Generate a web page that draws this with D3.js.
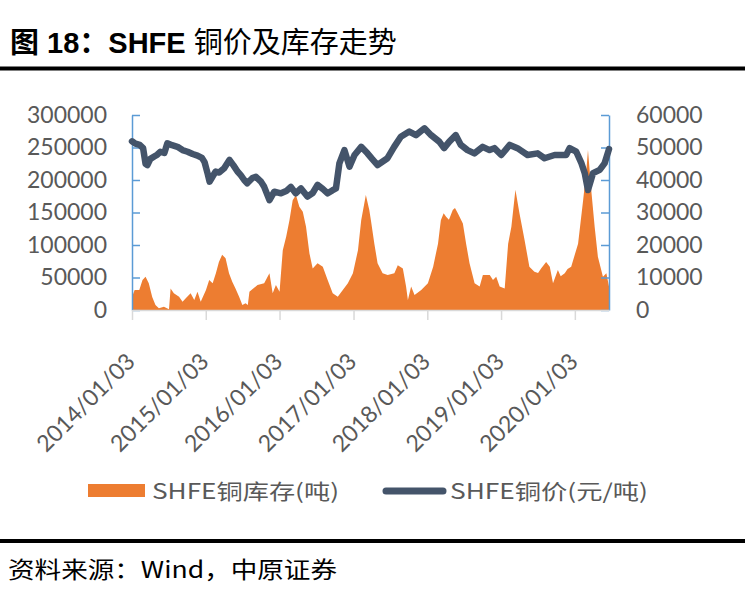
<!DOCTYPE html>
<html>
<head>
<meta charset="utf-8">
<script src="https://cdn.jsdelivr.net/npm/d3@7"></script>
<style>
    body { margin: 0; background: #fff; }
</style>
</head>
<body>
<svg id="chart" width="745" height="597"></svg>
<script>

// Category labels on the time axis
const xTickLabels = ["2014/01/03", "2015/01/03", "2016/01/03", "2017/01/03", "2018/01/03", "2019/01/03", "2020/01/03"];

// Tick values for the two value axes
const stockTicks = [0, 50000, 100000, 150000, 200000, 250000, 300000];
const priceTicks = [0, 10000, 20000, 30000, 40000, 50000, 60000];

const seriesNames = ["SHFE铜库存(吨)", "SHFE铜价(元/吨)"];

// SHFE copper stock (tonnes)
const stockDates = [
    "2014-01-03", "2014-01-16", "2014-02-08", "2014-02-24", "2014-03-11", "2014-03-27", "2014-04-13", "2014-04-29",
    "2014-05-16", "2014-06-10", "2014-07-05", "2014-07-13", "2014-07-29", "2014-08-24", "2014-09-10", "2014-09-26",
    "2014-10-20", "2014-11-07", "2014-11-23", "2014-12-09", "2015-01-04", "2015-01-20", "2015-02-06", "2015-02-22",
    "2015-03-09", "2015-03-25", "2015-04-11", "2015-04-28", "2015-05-14", "2015-05-30", "2015-06-17", "2015-07-03",
    "2015-07-19", "2015-07-30", "2015-08-07", "2015-08-17", "2015-09-16", "2015-10-19", "2015-11-14", "2015-11-30",
    "2015-12-16", "2016-01-03", "2016-01-19", "2016-02-05", "2016-02-21", "2016-03-08", "2016-03-24", "2016-04-10",
    "2016-04-27", "2016-05-13", "2016-05-30", "2016-06-15", "2016-07-09", "2016-08-04", "2016-08-28", "2016-09-22",
    "2016-10-17", "2016-11-11", "2016-12-06", "2016-12-31", "2017-01-25", "2017-02-10", "2017-03-05", "2017-03-22",
    "2017-03-30", "2017-04-16", "2017-05-02", "2017-05-27", "2017-06-21", "2017-07-24", "2017-08-10", "2017-09-04",
    "2017-09-20", "2017-09-29", "2017-10-15", "2017-11-01", "2017-12-04", "2018-01-06", "2018-02-01", "2018-02-25",
    "2018-03-11", "2018-03-25", "2018-04-06", "2018-04-20", "2018-05-09", "2018-05-20", "2018-06-03", "2018-06-28",
    "2018-07-14", "2018-07-31", "2018-08-25", "2018-09-19", "2018-10-05", "2018-11-08", "2018-11-24", "2018-12-10",
    "2018-12-27", "2019-01-21", "2019-02-07", "2019-02-23", "2019-03-15", "2019-04-04", "2019-04-29", "2019-05-23",
    "2019-06-17", "2019-07-05", "2019-07-20", "2019-08-14", "2019-09-01", "2019-09-17", "2019-10-11", "2019-10-25",
    "2019-11-14", "2019-11-28", "2019-12-16", "2020-01-19", "2020-02-13", "2020-02-29", "2020-03-08", "2020-03-24",
    "2020-04-10", "2020-04-26", "2020-05-21", "2020-06-07", "2020-06-20"
];
const stockValues = [
    20000, 30800, 30800, 46000, 51000, 41000, 20000, 7700,
    2600, 5000, 1000, 33000, 25600, 20500, 12800, 18000,
    25600, 15400, 28000, 12800, 30800, 46000, 41000, 56500,
    74000, 85000, 79500, 56500, 43600, 33000, 20500, 7700,
    10300, 7700, 28000, 30800, 38500, 41000, 56500, 25600,
    38500, 28000, 92000, 113000, 138000, 169000, 177000, 159000,
    151000, 128000, 87000, 64000, 72000, 66700, 46000, 25600,
    20500, 30800, 41000, 56500, 92000, 138000, 177000, 154000,
    138000, 102000, 72000, 56500, 54000, 56500, 69000, 64000,
    36000, 15400, 36000, 23000, 30800, 41000, 66700, 102000,
    138000, 149000, 143600, 139000, 154000, 157000, 149000, 133000,
    102000, 72000, 41000, 36000, 54000, 54000, 46000, 51000,
    36000, 33000, 102000, 128000, 185000, 149000, 108000, 66700,
    59000, 57000, 64000, 74000, 66700, 41000, 61500, 52000,
    56500, 63000, 66700, 102000, 169000, 215000, 246000, 185000,
    128000, 82000, 51000, 56500, 36000
];

// SHFE copper price (yuan / tonne)
const priceDates = [
    "2014-01-03", "2014-01-20", "2014-02-10", "2014-02-27", "2014-03-11", "2014-03-20", "2014-04-04", "2014-04-25",
    "2014-05-08", "2014-05-23", "2014-06-12", "2014-06-27", "2014-07-20", "2014-08-16", "2014-09-10", "2014-10-05",
    "2014-10-30", "2014-11-23", "2014-12-15", "2014-12-28", "2015-01-12", "2015-01-22", "2015-02-05", "2015-02-21",
    "2015-03-10", "2015-04-04", "2015-04-30", "2015-05-20", "2015-06-09", "2015-06-25", "2015-07-12", "2015-07-27",
    "2015-08-22", "2015-09-08", "2015-10-03", "2015-10-19", "2015-11-14", "2015-12-08", "2016-01-10", "2016-02-05",
    "2016-02-28", "2016-03-23", "2016-04-18", "2016-05-20", "2016-06-15", "2016-07-09", "2016-08-05", "2016-08-28",
    "2016-09-20", "2016-10-08", "2016-10-25", "2016-11-19", "2016-12-14", "2017-01-08", "2017-02-10", "2017-03-13",
    "2017-04-05", "2017-05-02", "2017-06-20", "2017-07-23", "2017-08-25", "2017-10-06", "2017-11-08", "2017-12-20",
    "2018-01-22", "2018-03-03", "2018-03-27", "2018-04-22", "2018-05-24", "2018-06-18", "2018-07-21", "2018-08-24",
    "2018-10-04", "2018-11-07", "2018-12-01", "2019-01-04", "2019-02-15", "2019-03-25", "2019-05-14", "2019-07-03",
    "2019-08-06", "2019-09-25", "2019-11-21", "2019-12-08", "2020-01-10", "2020-02-05", "2020-02-21", "2020-03-08",
    "2020-04-02", "2020-05-05", "2020-05-29", "2020-06-20"
];
const priceValues = [
    51900, 51200, 50800, 49800, 45000, 44600, 46500, 47300,
    47800, 48700, 48300, 51300, 50700, 50200, 49200, 48700,
    48000, 47500, 46800, 45500, 42000, 39500, 41000, 42600,
    42300, 43600, 46200, 44500, 42600, 41500, 40000, 39000,
    40600, 41000, 39500, 37900, 33800, 36400, 35900, 36600,
    37900, 35900, 37400, 34900, 36000, 38500, 37200, 35900,
    36800, 37400, 45100, 49200, 44100, 47700, 50200, 48200,
    46500, 44600, 46700, 50200, 53300, 54900, 53800, 55900,
    53800, 51800, 49800, 51800, 53800, 50800, 49200, 48200,
    50200, 49200, 49800, 47700, 50800, 49800, 47700, 48200,
    46700, 47700, 47700, 49800, 48700, 45100, 42100, 36900,
    42100, 43100, 45100, 49500
];

/** Class drawing the dual axis stock / price chart. */
class StockPriceChart {

    constructor(svg) {
        this.svg = svg;

        // Plot box in page pixels
        this.plot = { left: 132, right: 609, top: 115, bottom: 310 };

        this.colors = {
            stock: "#ED7D31",
            price: "#44546A",
            valueAxis: "#5B9BD5",
            catAxis: "#D9D9D9",
            text: "#595959"
        };

        this.parse = d3.timeParse("%Y-%m-%d");
        this.parseTick = d3.timeParse("%Y/%m/%d");

        this.x = d3.scaleTime()
            .domain([this.parse(stockDates[0]), this.parse(stockDates[stockDates.length - 1])])
            .range([this.plot.left, this.plot.right]);

        this.yStock = d3.scaleLinear()
            .domain([0, d3.max(stockTicks)])
            .range([this.plot.bottom, this.plot.top]);

        this.yPrice = d3.scaleLinear()
            .domain([0, d3.max(priceTicks)])
            .range([this.plot.bottom, this.plot.top]);
    }

    drawFrame() {
        let svg = this.svg;

        let title = svg.append("text")
            .attr("x", 10)
            .attr("y", 53)
            .attr("font-size", 29)
            .attr("fill", "#000");
        title.append("tspan")
            .attr("font-family", "'Liberation Sans', 'Noto Sans CJK SC', sans-serif")
            .attr("font-weight", "bold")
            .text("图 18：SHFE ");
        title.append("tspan")
            .attr("font-family", "'Noto Sans CJK SC', sans-serif")
            .attr("font-weight", "normal")
            .text("铜价及库存走势");

        // heavy rules above and below the chart
        svg.append("line")
            .attr("x1", 0).attr("x2", 745)
            .attr("y1", 68.5).attr("y2", 68.5)
            .attr("stroke", "#000").attr("stroke-width", 4);
        svg.append("line")
            .attr("x1", 0).attr("x2", 745)
            .attr("y1", 541).attr("y2", 541)
            .attr("stroke", "#000").attr("stroke-width", 4);

        svg.append("text")
            .attr("x", 8)
            .attr("y", 578)
            .attr("font-family", "'Noto Sans CJK SC', sans-serif")
            .attr("font-size", 23)
            .attr("textLength", 329)
            .attr("lengthAdjust", "spacingAndGlyphs")
            .attr("fill", "#000")
            .text("资料来源：Wind，中原证券");
    }

    drawStock() {
        let data = stockDates.map((d, i) => ({ date: this.parse(d), value: stockValues[i] }));

        let area = d3.area()
            .x(d => this.x(d.date))
            .y0(this.yStock(0))
            .y1(d => this.yStock(d.value));

        this.svg.append("path")
            .datum(data)
            .attr("d", area)
            .attr("fill", this.colors.stock);
    }

    drawPrice() {
        let data = priceDates.map((d, i) => ({ date: this.parse(d), value: priceValues[i] }));

        let line = d3.line()
            .x(d => this.x(d.date))
            .y(d => this.yPrice(d.value));

        this.svg.append("path")
            .datum(data)
            .attr("d", line)
            .attr("fill", "none")
            .attr("stroke", this.colors.price)
            .attr("stroke-width", 6.5)
            .attr("stroke-linejoin", "round")
            .attr("stroke-linecap", "round");
    }

    drawAxes() {
        let plot = this.plot;
        let colors = this.colors;
        let font = "Lato, 'Open Sans', sans-serif";
        let plain = d3.format("d");

        let styleAxis = (g, color) => {
            g.attr("font-family", font).attr("font-size", 23);
            g.select(".domain").attr("stroke", color).attr("stroke-width", 1.5);
            g.selectAll(".tick line").attr("stroke", color).attr("stroke-width", 1.5);
            g.selectAll(".tick text").attr("fill", colors.text);
        };

        // left axis: stock
        let leftAxis = d3.axisLeft(this.yStock)
            .tickValues(stockTicks)
            .tickFormat(plain)
            .tickSizeInner(-8)
            .tickSizeOuter(0)
            .tickPadding(25);
        this.svg.append("g")
            .attr("transform", "translate(" + plot.left + ",0)")
            .call(leftAxis)
            .call(g => styleAxis(g, colors.valueAxis));

        // right axis: price
        let rightAxis = d3.axisRight(this.yPrice)
            .tickValues(priceTicks)
            .tickFormat(plain)
            .tickSizeInner(-8)
            .tickSizeOuter(0)
            .tickPadding(27);
        this.svg.append("g")
            .attr("transform", "translate(" + plot.right + ",0)")
            .call(rightAxis)
            .call(g => styleAxis(g, colors.valueAxis));

        // bottom axis with rotated date labels
        let bottomAxis = d3.axisBottom(this.x)
            .tickValues(xTickLabels.map(this.parseTick))
            .tickSizeInner(10)
            .tickSizeOuter(0)
            .tickFormat(d3.timeFormat("%Y/%m/%d"));
        this.svg.append("g")
            .attr("transform", "translate(0," + plot.bottom + ")")
            .call(bottomAxis)
            .call(g => styleAxis(g, colors.catAxis))
            .call(g => g.selectAll(".tick text")
                .attr("y", 0)
                .attr("dy", 0)
                .attr("text-anchor", "end")
                .attr("transform", "translate(4,53) rotate(-45)"));
    }

    drawLegend() {
        let svg = this.svg;
        let font = "'Noto Sans CJK SC', sans-serif";

        svg.append("rect")
            .attr("x", 88).attr("y", 484)
            .attr("width", 57).attr("height", 13)
            .attr("fill", this.colors.stock);
        svg.append("text")
            .attr("x", 152).attr("y", 499)
            .attr("font-family", font).attr("font-size", 21)
            .attr("textLength", 187).attr("lengthAdjust", "spacingAndGlyphs")
            .attr("fill", this.colors.text)
            .text(seriesNames[0]);

        svg.append("line")
            .attr("x1", 386).attr("x2", 443)
            .attr("y1", 491).attr("y2", 491)
            .attr("stroke", this.colors.price)
            .attr("stroke-width", 7)
            .attr("stroke-linecap", "round");
        svg.append("text")
            .attr("x", 450).attr("y", 499)
            .attr("font-family", font).attr("font-size", 21)
            .attr("textLength", 198).attr("lengthAdjust", "spacingAndGlyphs")
            .attr("fill", this.colors.text)
            .text(seriesNames[1]);
    }

    draw() {
        this.drawFrame();
        this.drawStock();
        this.drawAxes();
        this.drawPrice();
        this.drawLegend();
    }
}

let chart = new StockPriceChart(d3.select("#chart"));
chart.draw();

</script>
</body>
</html>
